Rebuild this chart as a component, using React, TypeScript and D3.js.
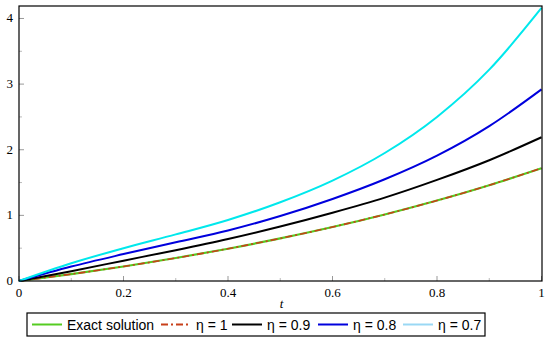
import React from 'react';
import * as d3 from 'd3';

// sample times
const tValues = [0, 0.1, 0.2, 0.3, 0.4, 0.5, 0.6, 0.7, 0.8, 0.9, 1];

// curves
const exactValues = [0, 0.105, 0.221, 0.35, 0.492, 0.649, 0.822, 1.014, 1.226, 1.46, 1.718];
const eta1Values = [0, 0.105, 0.221, 0.35, 0.492, 0.649, 0.822, 1.014, 1.226, 1.46, 1.718];
const eta09Values = [0, 0.15, 0.31, 0.47, 0.64, 0.83, 1.04, 1.27, 1.54, 1.84, 2.19];
const eta08Values = [0, 0.22, 0.41, 0.59, 0.77, 0.99, 1.25, 1.55, 1.91, 2.36, 2.92];
const eta07Values = [0, 0.27, 0.5, 0.71, 0.93, 1.2, 1.53, 1.95, 2.5, 3.22, 4.16];

const xTicks = [0, 0.2, 0.4, 0.6, 0.8, 1];
const xTickLabels = ['0', '0.2', '0.4', '0.6', '0.8', '1'];
const yTicks = [0, 1, 2, 3, 4];

const legendLabels = ['Exact solution', 'η = 1', 'η = 0.9', 'η = 0.8', 'η = 0.7'];

const series = [
  { name: legendLabels[0], values: exactValues, color: '#55cc22', width: 2.2, dash: '' },
  { name: legendLabels[1], values: eta1Values, color: '#c8401a', width: 1.6, dash: '7,3,2,3' },
  { name: legendLabels[2], values: eta09Values, color: '#000000', width: 2, dash: '' },
  { name: legendLabels[3], values: eta08Values, color: '#0000dd', width: 2, dash: '' },
  { name: legendLabels[4], values: eta07Values, color: '#00e8ec', width: 2, dash: '' },
];

const App = () => {
  const width = 550,
    height = 351;
  const left = 19,
    right = 542,
    top = 6,
    bottom = 281;

  const x = d3.scaleLinear().domain([0, 1]).range([left, right - 0.5]);
  const y = d3.scaleLinear().domain([0, 4.19]).range([bottom, top]);

  const line = d3
    .line<number>()
    .x((_, i) => x(tValues[i]))
    .y(d => y(d))
    .curve(d3.curveMonotoneX);

  const minorX = d3.range(0.1, 1, 0.2);
  const minorY = d3.range(0.5, 4.2, 1);

  // legend layout
  const legendX = [32, 161, 232, 318, 403];
  const legendY = 325;

  return (
    <svg
      width={width}
      height={height}
      style={{ position: 'absolute', left: 0, top: 0, background: '#fff' }}
    >
      {/* ticks */}
      {xTicks.map(t => (
        <line key={'xt' + t} x1={x(t)} x2={x(t)} y1={bottom} y2={bottom - 5} stroke="#999" />
      ))}
      {minorX.map(t => (
        <line key={'xm' + t} x1={x(t)} x2={x(t)} y1={bottom} y2={bottom - 3} stroke="#bbb" />
      ))}
      {yTicks.map(v => (
        <line key={'yt' + v} x1={left} x2={left + 5} y1={y(v)} y2={y(v)} stroke="#999" />
      ))}
      {minorY.map(v => (
        <line key={'ym' + v} x1={left} x2={left + 3} y1={y(v)} y2={y(v)} stroke="#bbb" />
      ))}

      {/* curves */}
      {series.map(s => (
        <path
          key={s.name}
          d={line(s.values) || ''}
          fill="none"
          stroke={s.color}
          strokeWidth={s.width}
          strokeDasharray={s.dash || undefined}
        />
      ))}

      {/* frame */}
      <rect x={left} y={top} width={right - left} height={bottom - top} fill="none" stroke="#000" strokeWidth={1.2} />

      {/* tick labels */}
      {xTicks.map((t, i) => (
        <text
          key={'xl' + t}
          x={x(t)}
          y={bottom + 16}
          textAnchor="middle"
          fontFamily="'Liberation Serif', 'DejaVu Serif', serif"
          fontSize={13}
        >
          {xTickLabels[i]}
        </text>
      ))}
      {yTicks.map(v => (
        <text
          key={'yl' + v}
          x={left - 6}
          y={y(v) + 4}
          textAnchor="end"
          fontFamily="'Liberation Serif', 'DejaVu Serif', serif"
          fontSize={13}
        >
          {v}
        </text>
      ))}
      <text
        x={(left + right) / 2 + 1}
        y={bottom + 27}
        textAnchor="middle"
        fontFamily="'Liberation Serif', serif"
        fontStyle="italic"
        fontSize={13}
      >
        t
      </text>

      {/* legend */}
      <rect x={27} y={313} width={458} height={23} fill="#fff" stroke="#000" strokeWidth={1.2} />
      {series.map((s, i) => (
        <g key={'lg' + s.name}>
          <line
            x1={legendX[i]}
            x2={legendX[i] + 30}
            y1={legendY - 0.5}
            y2={legendY - 0.5}
            stroke={i === 4 ? '#9ad8f4' : s.color}
            strokeWidth={2}
            strokeDasharray={s.dash || undefined}
          />
          <text
            x={legendX[i] + 35}
            y={legendY + 5}
            fontFamily="'Liberation Sans', Arial, sans-serif"
            fontSize={14}
          >
            {s.name}
          </text>
        </g>
      ))}
    </svg>
  );
};

export default App;
